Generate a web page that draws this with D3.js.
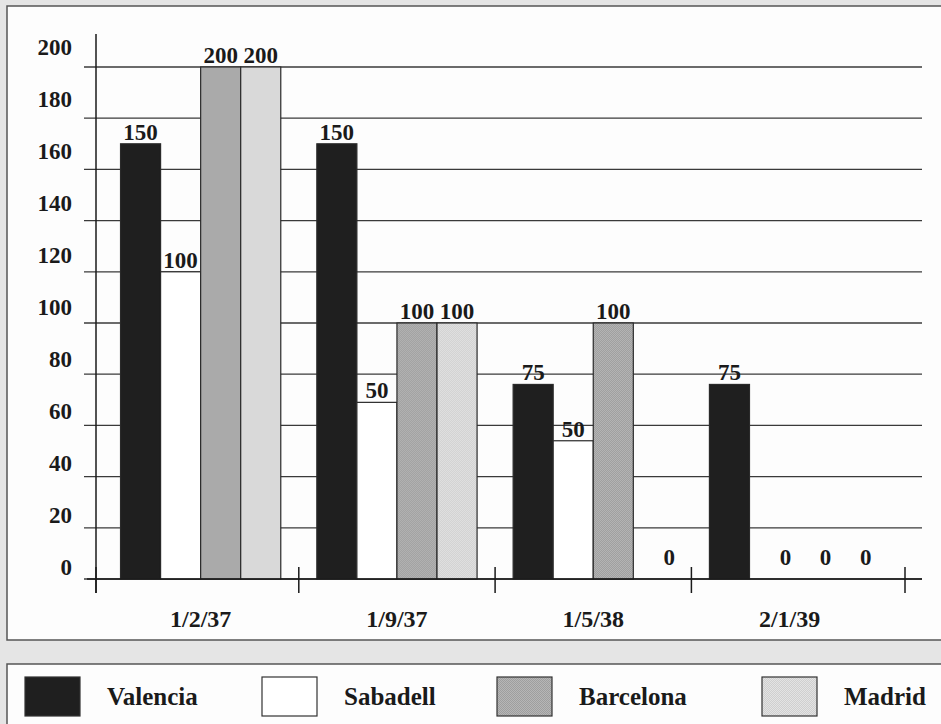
<!DOCTYPE html>
<html>
<head>
<meta charset="utf-8">
<script src="https://cdn.jsdelivr.net/npm/d3@7"></script>
<style>
  html, body { margin: 0; padding: 0; background: #e5e5e5; }
  svg { display: block; }
  text { font-family: "Liberation Serif", "Times New Roman", serif; font-weight: bold; fill: #1a1a1a; }
</style>
</head>
<body>
<svg id="chart" width="941" height="724"></svg>
<script>
// ---- data ----
const categories = ["1/2/37", "1/9/37", "1/5/38", "2/1/39"];
const seriesNames = ["Valencia", "Sabadell", "Barcelona", "Madrid"];
// bar heights as drawn in the picture
const valencia  = [170, 170, 76, 76];
const sabadell  = [120, 69, 54, 0];
const barcelona = [200, 100, 100, 0];
const madrid    = [200, 100, 0, 0];
// value labels as printed above the bars
const valenciaLabels  = [150, 150, 75, 75];
const sabadellLabels  = [100, 50, 50, 0];
const barcelonaLabels = [200, 100, 100, 0];
const madridLabels    = [200, 100, 0, 0];
const yTicks = [0, 20, 40, 60, 80, 100, 120, 140, 160, 180, 200];

const seriesValues = [valencia, sabadell, barcelona, madrid];
const seriesLabels = [valenciaLabels, sabadellLabels, barcelonaLabels, madridLabels];

const svg = d3.select("#chart");

// patterns
const defs = svg.append("defs");
function dither(id, a, b) {
  const p = defs.append("pattern").attr("id", id).attr("width", 2).attr("height", 2)
    .attr("patternUnits", "userSpaceOnUse");
  p.append("rect").attr("width", 2).attr("height", 2).attr("fill", a);
  p.append("rect").attr("width", 1).attr("height", 1).attr("fill", b);
  p.append("rect").attr("x", 1).attr("y", 1).attr("width", 1).attr("height", 1).attr("fill", b);
}
dither("patBarcelona", "#b6b6b6", "#9e9e9e");
dither("patMadrid", "#e3e3e3", "#cfcfcf");
const fills = ["#1f1f1f", "#ffffff", "url(#patBarcelona)", "url(#patMadrid)"];

// frames
svg.append("rect").attr("x", 7).attr("y", 6).attr("width", 950).attr("height", 634)
  .attr("fill", "#fdfdfd").attr("stroke", "#555").attr("stroke-width", 1.5);
svg.append("rect").attr("x", 7).attr("y", 664).attr("width", 950).attr("height", 80)
  .attr("fill", "#fdfdfd").attr("stroke", "#555").attr("stroke-width", 1.5);

// scales
const y = d3.scaleLinear().domain([0, 200]).range([579, 67]);
const x0 = d3.scaleBand().domain(categories).range([102.5, 887.7]).paddingInner(0).paddingOuter(0);
const x1 = d3.scaleBand().domain(seriesNames).range([0, x0.bandwidth()]).paddingInner(0).paddingOuter(0.45);

const axisX = 96, gridL = 84, gridR = 922, lastTick = 905;

// gridlines
svg.append("g").selectAll("line").data(yTicks).join("line")
  .attr("x1", gridL).attr("x2", gridR)
  .attr("y1", d => y(d)).attr("y2", d => y(d))
  .attr("stroke", "#3a3a3a").attr("stroke-width", 1.3);

// y tick labels
svg.append("g").selectAll("text").data(yTicks).join("text")
  .attr("x", 72).attr("y", d => y(d) - 4 - d * 0.04)
  .attr("text-anchor", "end").attr("font-size", 23).text(d => d);

// bars
const groups = svg.append("g").selectAll("g").data(categories).join("g")
  .attr("transform", c => `translate(${x0(c)},0)`);
groups.each(function (c, ci) {
  const g = d3.select(this);
  seriesNames.forEach((s, si) => {
    const v = seriesValues[si][ci];
    if (v > 0) {
      g.append("rect")
        .attr("x", x1(s)).attr("width", x1.bandwidth())
        .attr("y", y(v)).attr("height", y(0) - y(v))
        .attr("fill", fills[si]).attr("stroke", "#2a2a2a").attr("stroke-width", 1.2);
    }
  });
});

// value labels
groups.each(function (c, ci) {
  const g = d3.select(this);
  seriesNames.forEach((s, si) => {
    const v = seriesValues[si][ci];
    const lab = seriesLabels[si][ci];
    g.append("text")
      .attr("x", x1(s) + x1.bandwidth() / 2 + (v === 0 ? 16 : 0))
      .attr("y", v === 0 ? y(0) - 14 : y(v) - 4)
      .attr("text-anchor", "middle").attr("font-size", 23).text(lab);
  });
});

// axes
svg.append("line").attr("x1", axisX).attr("x2", axisX).attr("y1", 34).attr("y2", 593)
  .attr("stroke", "#1a1a1a").attr("stroke-width", 1.5);
svg.append("line").attr("x1", 87).attr("x2", gridR).attr("y1", y(0)).attr("y2", y(0))
  .attr("stroke", "#1a1a1a").attr("stroke-width", 1.6);
const tickXs = [axisX].concat(categories.slice(1).map(c => x0(c))).concat([lastTick]);
svg.append("g").selectAll("line").data(tickXs).join("line")
  .attr("x1", d => d).attr("x2", d => d).attr("y1", 567).attr("y2", 593)
  .attr("stroke", "#1a1a1a").attr("stroke-width", 1.5);

// category labels
svg.append("g").selectAll("text").data(categories).join("text")
  .attr("x", c => x0(c) + x0.bandwidth() / 2).attr("y", 627)
  .attr("text-anchor", "middle").attr("font-size", 24).text(c => c);

// legend
const legendX = [25, 262, 497, 762];
const lg = svg.append("g").selectAll("g").data(seriesNames).join("g")
  .attr("transform", (d, i) => `translate(${legendX[i]},677)`);
lg.append("rect").attr("width", 55).attr("height", 39)
  .attr("fill", (d, i) => fills[i]).attr("stroke", "#333").attr("stroke-width", 1.2);
lg.append("text").attr("x", 82).attr("y", 28).attr("font-size", 25).text(d => d);
</script>
</body>
</html>
